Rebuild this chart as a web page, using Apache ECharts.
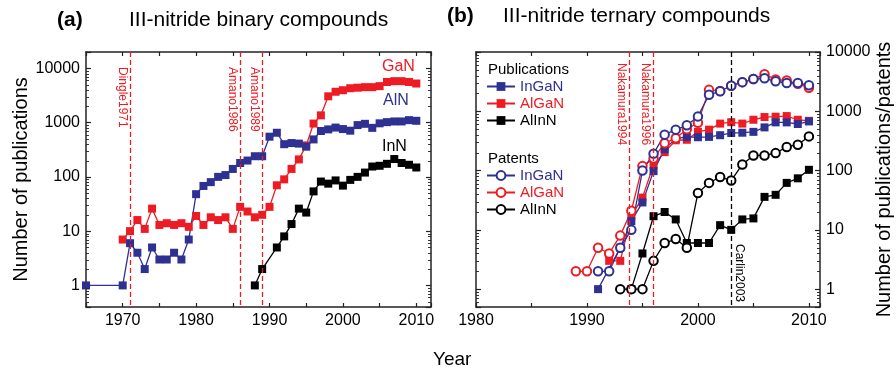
<!DOCTYPE html>
<html><head><meta charset="utf-8">
<script src="https://cdn.jsdelivr.net/npm/echarts@6/dist/echarts.min.js"></script>
<style>html,body{margin:0;padding:0;background:#fff}#c{width:896px;height:374px}</style>
</head><body><div id="c"></div>
<script>
// ---------- data: panel (a) binary compounds ----------
const alnYears = [1965,1970,1971,1972,1973,1974,1975,1976,1977,1978,1979,1980,1981,1982,1983,1984,1985,1986,1987,1988,1989,1990,1991,1992,1993,1994,1995,1996,1997,1998,1999,2000,2001,2002,2003,2004,2005,2006,2007,2008,2009,2010];
const alnValues = [1,1,6,4,2,5,3,3,4,3,7,48,68,80,100,108,140,180,200,240,240,550,650,400,420,410,360,490,700,750,810,760,710,900,950,800,970,1020,1050,1050,1110,1080];
const ganYears = [1970,1971,1972,1973,1974,1975,1976,1977,1978,1979,1980,1981,1982,1983,1984,1985,1986,1987,1988,1989,1990,1991,1992,1993,1994,1995,1996,1997,1998,1999,2000,2001,2002,2003,2004,2005,2006,2007,2008,2009,2010];
const ganValues = [7,10,16,11,26,13,14,13,14,12,19,13,18,16,18,11,28,23,18,20,28,70,90,140,210,380,960,1360,3050,3700,3950,4300,4400,4500,4500,4700,5600,5800,5800,5600,5250];
const innYears = [1988,1989,1991,1992,1993,1994,1995,1996,1997,1998,1999,2000,2001,2002,2003,2004,2005,2006,2007,2008,2009,2010];
const innValues = [1,2,5,8,13.5,26,22,54,82,75,86,69,88,100,120,155,160,174,213,180,167,149];
const binaryEvents = [[1971,'Dingle1971'],[1986,'Amano1986'],[1989,'Amano1989']];

// ---------- data: panel (b) ternary compounds ----------
const ingPubYears = [1991,1993,1994,1995,1996,1997,1998,1999,2000,2001,2002,2003,2004,2005,2006,2007,2008,2009,2010];
const ingPubValues = [1,5,14,29,98,230,346,370,365,370,395,430,435,450,535,650,650,610,675];
const algPubYears = [1992,1993,1994,1995,1996,1997,1998,1999,2000,2001,2002,2003,2004,2005,2006,2007,2008,2009,2010];
const algPubValues = [3,3,17,35,125,205,324,331,450,490,620,655,620,720,800,810,830,720,690];
const alinPubYears = [1994,1995,1996,1997,1998,1999,2000,2001,2002,2003,2004,2005,2006,2007,2008,2009,2010];
const alinPubValues = [1,4,17,20,15,6,6,6,12,10,15,15.6,36,39,62,74,103];
const ingPatYears = [1991,1992,1993,1994,1995,1996,1997,1998,1999,2000,2001,2002,2003,2004,2005,2006,2007,2008,2009,2010];
const ingPatValues = [2,2,5,10,100,193,404,490,580,820,1900,2180,2700,3100,3500,3600,3200,3000,3000,2750];
const algPatYears = [1989,1990,1991,1992,1993,1994,1995,1996,1997,1998,1999,2000,2001,2002,2003,2004,2005,2006,2007,2008,2009,2010];
const algPatValues = [2,2,5,4,8,21,119,160,290,350,500,640,2300,2200,2700,3100,3500,4200,3450,3300,2900,2500];
const alinPatYears = [1993,1994,1995,1996,1997,1998,1999,2000,2001,2002,2003,2004,2005,2006,2007,2008,2009,2010];
const alinPatValues = [1,1,1,3,6,7,5,42,62,78,68,127,180,180,197,250,273,377];
const ternaryRedEvents = [[1993.8,'Nakamura1994'],[1996,'Nakamura1996']];
const ternaryBlackEvents = [[2003,'Carlin2003']];

// ---------- minor tick values of the log axes ----------
const minorTicksA = [0.4,0.5,0.6,0.7,0.8,0.9,2,3,4,5,6,7,8,9,20,30,40,50,60,70,80,90,200,300,400,500,600,700,800,900,2000,3000,4000,5000,6000,7000,8000,9000,20000];
const minorTicksB = [0.5,0.6,0.7,0.8,0.9,2,3,4,5,6,7,8,9,20,30,40,50,60,70,80,90,200,300,400,500,600,700,800,900,2000,3000,4000,5000,6000,7000,8000,9000];

// ---------- styling ----------
const RED = '#ed1c24', BLUE = '#2e3192', BLACK = '#000000', AX = '#222222';
const FONT = '"Liberation Sans", Arial, sans-serif';
const A_YMIN = 0.4, A_YMAX = 20000, B_YMIN = 0.5, B_YMAX = 10000;

const pairs = (xs, ys) => xs.map((x, i) => [x, ys[i]]);
const isPow10 = v => { const l = Math.log10(v); return Math.abs(l - Math.round(l)) < 1e-6; };

function xAx(grid, pos, min, max, labels) {
  return {
    type: 'value', gridIndex: grid, position: pos, min: min, max: max, interval: 5,
    axisLine: { show: true, onZero: false, lineStyle: { color: AX, width: 1.5 } },
    axisTick: { show: true, inside: true, length: 4, lineStyle: { color: AX, width: 1.2 } },
    axisLabel: { show: labels, margin: 6, fontSize: 16, color: '#000', fontFamily: FONT,
      formatter: v => (v % 10 === 0 ? String(v) : '') },
    splitLine: { show: false }
  };
}
function yAx(grid, pos, min, max, labels, name, gap) {
  return {
    type: 'log', logBase: 10, gridIndex: grid, position: pos, min: min, max: max,
    name: name || '', nameLocation: 'middle', nameGap: gap || 0,
    nameTextStyle: { fontSize: 20, color: '#000', fontFamily: FONT },
    axisLine: { show: true, onZero: false, lineStyle: { color: AX, width: 1.5 } },
    axisTick: { show: true, inside: true, length: 5, lineStyle: { color: AX, width: 1.2 } },
    minorTick: { show: false },
    axisLabel: { show: labels, margin: 6, fontSize: 16, color: '#000', fontFamily: FONT,
      formatter: v => (isPow10(v) ? String(Math.round(v)) : '') },
    splitLine: { show: false }, minorSplitLine: { show: false }
  };
}
function lineSeries(name, xs, ys, color, symbol, size, xi, yi, extra) {
  return Object.assign({
    type: 'line', name: name, data: pairs(xs, ys), xAxisIndex: xi, yAxisIndex: yi,
    symbol: symbol, symbolSize: size, showAllSymbol: true,
    lineStyle: { color: color, width: 1.3 },
    itemStyle: { color: color, borderColor: color, borderWidth: symbol === 'emptyCircle' ? 1.2 : 0 },
    emphasis: { disabled: true }, animation: false
  }, extra || {});
}
function eventLines(events, yMin, yMax, color, pos, dist) {
  return {
    silent: true, symbol: ['none', 'none'], animation: false,
    lineStyle: { color: color, type: [5, 3], width: 1.3 },
    label: { show: true, position: pos, distance: dist, fontSize: 12, color: color, fontFamily: FONT },
    emphasis: { disabled: true },
    data: events.map(e => [
      { coord: [e[0], yMax], label: { formatter: e[1] } },
      { coord: [e[0], yMin] }
    ])
  };
}
// minor ticks on both vertical edges of a grid, positioned by the log axis
function minorTickSeries(values, xi, yi, xMin) {
  return {
    type: 'custom', xAxisIndex: xi, yAxisIndex: yi, silent: true, animation: false, z: 5,
    clip: false, data: values.map(v => [xMin, v]),
    renderItem: function (params, api) {
      const cs = params.coordSys;
      const y = Math.round(api.coord([api.value(0), api.value(1)])[1]) + 0.5;
      const st = { stroke: AX, lineWidth: 0.9 };
      return { type: 'group', children: [
        { type: 'line', shape: { x1: cs.x, y1: y, x2: cs.x + 3, y2: y }, style: st },
        { type: 'line', shape: { x1: cs.x + cs.width - 3, y1: y, x2: cs.x + cs.width, y2: y }, style: st }
      ] };
    }
  };
}

const chart = echarts.init(document.getElementById('c'), null, { renderer: 'canvas' });
const legendText = (names, colors) => names.map((n, i) => ({ name: n, textStyle: { color: colors[i] } }));

chart.setOption({
  animation: false,
  textStyle: { fontFamily: FONT },
  grid: [
    { left: 86, right: 465, top: 52, bottom: 67 },
    { left: 476, right: 76, top: 52, bottom: 67 }
  ],
  xAxis: [
    xAx(0, 'bottom', 1965, 2012, true),
    xAx(0, 'top', 1965, 2012, false),
    xAx(1, 'bottom', 1980, 2011, true),
    xAx(1, 'top', 1980, 2011, false)
  ],
  yAxis: [
    yAx(0, 'left', A_YMIN, A_YMAX, true, 'Number of publications', 51),
    yAx(0, 'right', A_YMIN, A_YMAX, false),
    yAx(1, 'right', B_YMIN, B_YMAX, true, 'Number of publications/patents', 54),
    yAx(1, 'left', B_YMIN, B_YMAX, false)
  ],
  legend: [
    {
      orient: 'vertical', left: 486, top: 79, itemWidth: 28, itemHeight: 11, itemGap: 2, padding: 0,
      selectedMode: false, textStyle: { fontSize: 15, fontFamily: FONT },
      formatter: n => n.split(' ')[1],
      data: legendText(['Publications InGaN', 'Publications AlGaN', 'Publications AlInN'], [BLUE, RED, BLACK])
    },
    {
      orient: 'vertical', left: 486, top: 168, itemWidth: 28, itemHeight: 11, itemGap: 2, padding: 0,
      selectedMode: false, textStyle: { fontSize: 15, fontFamily: FONT },
      formatter: n => n.split(' ')[1],
      data: legendText(['Patents InGaN', 'Patents AlGaN', 'Patents AlInN'], [BLUE, RED, BLACK])
    }
  ],
  series: [
    minorTickSeries(minorTicksA, 0, 0, 1965),
    minorTickSeries(minorTicksB, 2, 2, 1980),
    lineSeries('GaN', ganYears, ganValues, RED, 'rect', 8, 0, 0,
      { markLine: eventLines(binaryEvents, A_YMIN, A_YMAX, RED, 'insideStartBottom', [15, 2]) }),
    lineSeries('AlN', alnYears, alnValues, BLUE, 'rect', 8, 0, 0),
    lineSeries('InN', innYears, innValues, BLACK, 'rect', 8, 0, 0),

    lineSeries('Publications AlInN', alinPubYears, alinPubValues, BLACK, 'rect', 8, 2, 2,
      { markLine: eventLines(ternaryBlackEvents, B_YMIN, B_YMAX, BLACK, 'insideEndTop', [5, 2]) }),
    lineSeries('Patents AlInN', alinPatYears, alinPatValues, BLACK, 'emptyCircle', 8.5, 2, 2),
    lineSeries('Publications AlGaN', algPubYears, algPubValues, RED, 'rect', 8, 2, 2,
      { markLine: eventLines(ternaryRedEvents, B_YMIN, B_YMAX, RED, 'insideStartBottom', [11, 2]) }),
    lineSeries('Publications InGaN', ingPubYears, ingPubValues, BLUE, 'rect', 8, 2, 2),
    lineSeries('Patents AlGaN', algPatYears, algPatValues, RED, 'emptyCircle', 8.5, 2, 2),
    lineSeries('Patents InGaN', ingPatYears, ingPatValues, BLUE, 'emptyCircle', 8.5, 2, 2)
  ],
  graphic: [
    { type: 'text', left: 57, top: 10, style: { text: '(a)', font: 'bold 21px ' + FONT, fill: '#000' } },
    { type: 'text', left: 129, top: 10, style: { text: 'III-nitride binary compounds', font: '21px ' + FONT, fill: '#000' } },
    { type: 'text', left: 447, top: 6, style: { text: '(b)', font: 'bold 21px ' + FONT, fill: '#000' } },
    { type: 'text', left: 503, top: 6, style: { text: 'III-nitride ternary compounds', font: '21px ' + FONT, fill: '#000' } },
    { type: 'text', left: 382, top: 59, style: { text: 'GaN', font: '16px ' + FONT, fill: RED } },
    { type: 'text', left: 383, top: 93, style: { text: 'AlN', font: '16px ' + FONT, fill: BLUE } },
    { type: 'text', left: 382, top: 139, style: { text: 'InN', font: '16px ' + FONT, fill: BLACK } },
    { type: 'text', left: 488, top: 62, style: { text: 'Publications', font: '15px ' + FONT, fill: '#000' } },
    { type: 'text', left: 488, top: 151, style: { text: 'Patents', font: '15px ' + FONT, fill: '#000' } },
    { type: 'text', left: 433, top: 350, style: { text: 'Year', font: '19px ' + FONT, fill: '#000' } }
  ]
});
</script></body></html>
